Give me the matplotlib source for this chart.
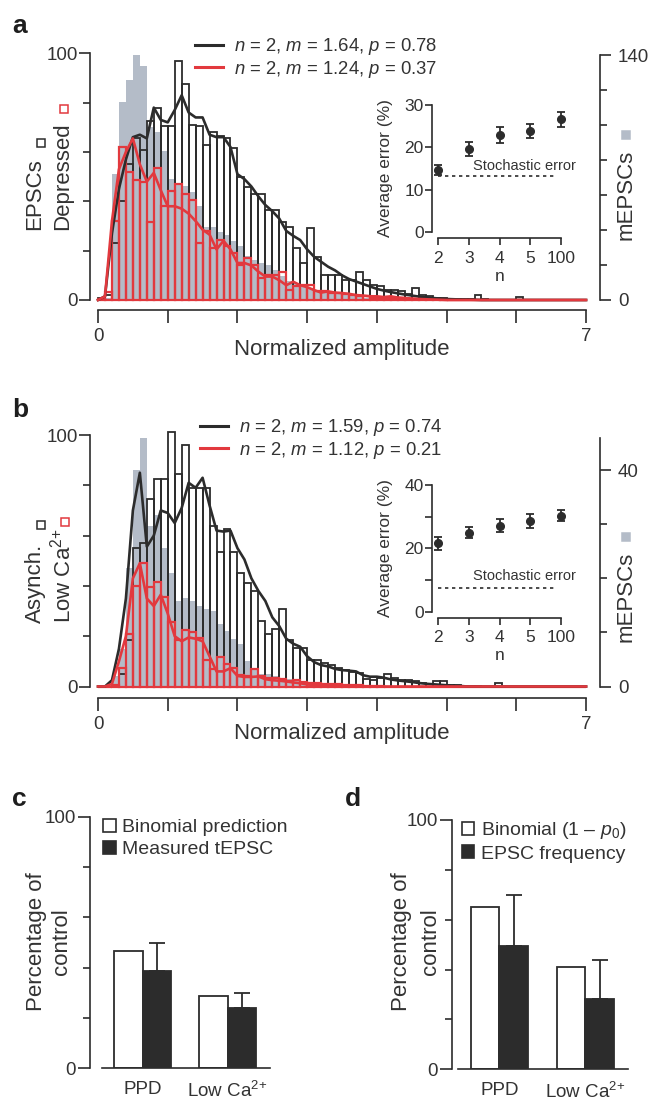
import numpy as np
import matplotlib
matplotlib.use('Agg')
import matplotlib.pyplot as plt
from matplotlib.lines import Line2D
from matplotlib.patches import Patch

# Amplitude histograms (counts per 0.1 bin, 0 to 7) with binomial fits,
# error insets and the two summary bar charts.

plt.rcParams['font.family'] = ['Liberation Sans', 'DejaVu Sans']
plt.rcParams['mathtext.fontset'] = 'custom'
plt.rcParams['mathtext.rm'] = 'Liberation Sans'
plt.rcParams['mathtext.it'] = 'Liberation Sans:italic'
plt.rcParams['mathtext.bf'] = 'Liberation Sans:bold'

INK = '#333333'
DARK = '#2c2c2c'
RED = '#e2393e'
GREY = '#b4bcc8'

BIN = 0.1
bin_left = np.arange(70) * BIN
fit_x = np.arange(71) * BIN

# ---- panel a ----
epsc_a = [1, 2, 23, 40, 55, 65.5, 61, 72.5, 78, 70.5,
          70.5, 97, 87.5, 71, 70.5, 63, 68, 66.5, 65.5, 61.5,
          50, 46, 43, 43, 36.5, 36.5, 31.5, 29.5, 21, 15,
          29, 17.5, 10, 10, 10, 8, 8, 11.5, 8, 6,
          5.5, 4, 4, 3.5, 2.5, 5, 2, 1.5, 1, 1,
          0.5, 0.5, 0.5, 0.5, 2, 0.5, 0, 0, 0, 0,
          1.3, 0, 0, 0, 0, 0, 0, 0, 0, 0]
depressed_a = [0.5, 3.4, 32, 62, 52, 48.5, 48, 31.5, 53.5, 38,
               44, 47, 43, 40.5, 23, 28, 21, 24.5, 22, 19,
               14, 17, 14, 9, 10, 10, 11.5, 4, 5.5, 6,
               6, 3.5, 3.5, 3, 3, 2.5, 2, 1.5, 1.5, 1,
               1, 1, 0.8, 1, 0.5, 0.5, 0.5, 0.3, 0.3, 0.3,
               0, 0, 0, 0, 0, 0, 0, 0, 0, 0,
               0, 0, 0, 0, 0, 0, 0, 0, 0, 0]
mepsc_a = [0, 1.4, 72, 113, 126, 140, 134, 99, 96, 85,
           69, 66, 65, 62, 54, 42, 42, 39, 37, 34,
           31, 25, 23, 21, 20, 17, 14, 11, 10, 8.5,
           7, 5.6, 5, 4.2, 3.5, 2.8, 2.1, 2.1, 1.4, 1.4,
           1.1, 0.8, 0.6, 0.4, 0, 0, 0, 0, 0, 0,
           0, 0, 0, 0, 0, 0, 0, 0, 0, 0,
           0, 0, 0, 0, 0, 0, 0, 0, 0, 0]
fit_epsc_a = [0, 1.5, 27, 45, 57, 66, 67, 65.5, 78, 73,
              72, 77, 83, 76, 74, 74, 67, 66, 66, 62,
              51, 49, 46, 42, 38.5, 36, 33, 28, 26, 24.3,
              20.5, 17.5, 15.5, 13.5, 12, 10, 8.5, 7.5, 6.5, 5.5,
              4.5, 3.8, 3.2, 2.7, 2.2, 1.8, 1.4, 1.1, 0.8, 0.6,
              0.4, 0.3, 0.2, 0.15, 0.1, 0, 0, 0, 0, 0,
              0, 0, 0, 0, 0, 0, 0, 0, 0, 0, 0]
fit_depressed_a = [0, 1.5, 32, 53, 60, 65.5, 55, 48, 51.5, 44.5,
                   38, 38, 37, 35, 32, 28.5, 26.5, 20.5, 24, 20.5,
                   15, 15, 14, 11.5, 9.5, 9.5, 8, 6, 7.4, 6,
                   5.2, 4, 3, 3.5, 3, 2.8, 2.5, 2, 1.8, 1.5,
                   1.5, 1.2, 1.5, 1, 0.8, 0.6, 0.4, 0.3, 0.2, 0.1,
                   0, 0, 0, 0, 0, 0, 0, 0, 0, 0,
                   0, 0, 0, 0, 0, 0, 0, 0, 0, 0, 0]
fit_labels_a = ['$n$ = 2, $m$ = 1.64, $p$ = 0.78', '$n$ = 2, $m$ = 1.24, $p$ = 0.37']

# ---- panel b ----
asynch_b = [0, 0, 0.5, 5, 18.5, 55, 57, 74.5, 82.5, 82.5,
            101, 84.5, 96, 79, 79, 79, 64, 53.6, 62.5, 53.5,
            45, 41, 38, 26, 21, 23, 30.8, 18.5, 15.2, 15.2,
            10.5, 10.5, 9.2, 8.5, 7.2, 6.6, 5.9, 5.5, 3, 2.6,
            3.5, 4.8, 3.2, 2.4, 2.4, 2.2, 1.3, 1, 2.2, 2.2,
            0.5, 0.5, 0.3, 0.3, 0.3, 0, 0, 1.2, 0, 0,
            0, 0, 0, 0, 0, 0, 0, 0, 0, 0]
lowca_b = [0, 0, 0.5, 7.2, 21, 40, 49, 39.7, 41.7, 35.7,
           25.8, 18.5, 22.5, 21.8, 19.2, 10.5, 6.8, 11.8, 9, 7.2,
           4.6, 4, 7, 4, 3.3, 3.3, 3, 2.3, 2.5, 1.9,
           1.5, 1.2, 1, 0.8, 0.8, 0.5, 0.5, 0.4, 0.3, 0.3,
           0.3, 0, 0, 0, 0, 0, 0, 0, 0, 0,
           0, 0, 0, 0, 0, 0, 0, 0, 0, 0,
           0, 0, 0, 0, 0, 0, 0, 0, 0, 0]
mepsc_b = [0, 0, 1.9, 7, 22, 40, 46, 29.8, 31.7, 25.6,
           21, 15.8, 16.3, 15.8, 14.9, 14.4, 14, 11.6, 10.2, 8.8,
           7.9, 4.7, 3.3, 2.3, 2.3, 1.9, 1.6, 1.4, 1.2, 0.9,
           0.8, 0.7, 0.6, 0.5, 0.4, 0.3, 0.2, 0, 0, 0,
           0, 0, 0, 0, 0, 0, 0, 0, 0, 0,
           0, 0, 0, 0, 0, 0, 0, 0, 0, 0,
           0, 0, 0, 0, 0, 0, 0, 0, 0, 0]
fit_asynch_b = [0, 0, 2.5, 15, 35, 70, 85, 55.6, 60, 70,
                69, 65, 71, 81, 79, 83, 72, 62, 61.6, 62,
                55, 50.5, 43, 38, 34, 27.5, 24, 19, 17, 15.8,
                12, 9.7, 8.5, 8, 7, 6.5, 6.3, 6, 4.5, 3.9,
                3.9, 3.5, 2.8, 2.4, 2.1, 1.8, 1.4, 1.1, 0.9, 0.7,
                0.5, 0.3, 0.2, 0, 0, 0, 0, 0, 0, 0,
                0, 0, 0, 0, 0, 0, 0, 0, 0, 0, 0]
fit_lowca_b = [0, 0, 1, 10, 20, 43, 49, 35, 32, 36.5,
               29, 20, 18, 19.5, 19, 18, 12, 6, 6, 7.3,
               4.2, 3.8, 3.8, 4, 2.9, 2.5, 2.3, 2, 1.6, 1.3,
               0.8, 0.6, 0.5, 0.4, 0.3, 0.2, 0.1, 0, 0, 0,
               0, 0, 0, 0, 0, 0, 0, 0, 0, 0,
               0, 0, 0, 0, 0, 0, 0, 0, 0, 0,
               0, 0, 0, 0, 0, 0, 0, 0, 0, 0, 0]
fit_labels_b = ['$n$ = 2, $m$ = 1.59, $p$ = 0.74', '$n$ = 2, $m$ = 1.12, $p$ = 0.21']

# ---- insets ----
n_labels = ['2', '3', '4', '5', '100']
avg_err_a = [14.6, 19.6, 22.9, 23.9, 26.6]
avg_sem_a = [1.2, 1.6, 1.8, 1.7, 1.8]
stoch_a = 13.2
avg_err_b = [21.6, 24.9, 27.2, 28.6, 30.3]
avg_sem_b = [2.0, 1.7, 2.0, 2.3, 1.8]
stoch_b = 7.6

# ---- panels c, d ----
groups = ['PPD', 'Low Ca$^{2{+}}$']
binomial_c = [46.7, 28.7]
measured_c = [38.8, 23.8]
measured_err_c = [11.1, 6.2]
binomial_d = [65.2, 40.9]
frequency_d = [49.5, 28.1]
frequency_err_d = [20.4, 15.7]

W, H = 650, 1102


def fx(x):
    return x / W


def fy(y):
    return 1 - y / H


fig = plt.figure(figsize=(W / 100, H / 100), dpi=100)


def side_label(x, y_bottom, text, sq_x, sq_y, sq_face, sq_edge):
    # rotated axis label with the little coloured square after it
    fig.text(fx(x), fy(y_bottom), text, rotation=90, ha='center', va='bottom',
             fontsize=16, color=INK)
    fig.add_artist(Line2D([fx(sq_x)], [fy(sq_y)], marker='s', ms=5.2, mfc=sq_face,
                          mec=sq_edge, mew=1.1, transform=fig.transFigure))


def hist_panel(y0, px_per_unit, black, red, grey, fit_b, fit_r, labels,
               right_scale, right_top, right_ticks, leg_xy, xaxis_out):
    bottom_px = y0 + 1 * px_per_unit
    top_px = y0 - 103 * px_per_unit
    ax = fig.add_axes([fx(90), fy(bottom_px), fx(510), (bottom_px - top_px) / H])
    ax2 = ax.twinx()
    ax.set_zorder(ax2.get_zorder() + 1)
    ax.patch.set_visible(False)

    ax2.bar(bin_left, grey, width=BIN, align='edge', color=GREY, lw=0)
    ax.bar(bin_left, black, width=BIN, align='edge', fill=False, edgecolor=DARK, lw=1.3)
    ax.bar(bin_left, red, width=BIN, align='edge', fill=False, edgecolor=RED, lw=1.6)
    ax.plot(fit_x, fit_b, color=DARK, lw=1.9, solid_joinstyle='round')
    ax.plot(fit_x, fit_r, color=RED, lw=1.9, solid_joinstyle='round')

    ax.set_xlim(-0.115, 7.2)
    ax.set_ylim(-1, 103)
    ax2.set_ylim(-1 * right_scale, 103 * right_scale)

    for a in (ax, ax2):
        for s in a.spines.values():
            s.set_color(DARK)
            s.set_linewidth(1.2)
        a.spines['top'].set_visible(False)
    ax.spines['right'].set_visible(False)
    ax2.spines['left'].set_visible(False)
    ax2.spines['bottom'].set_visible(False)
    ax.spines['left'].set_bounds(0, 100)
    ax2.spines['right'].set_bounds(0, right_top)
    ax.spines['bottom'].set_position(('outward', xaxis_out))
    ax.spines['bottom'].set_bounds(0, 7)

    ax.set_yticks([0, 100], ['0', '100'])
    ax.set_yticks([20, 40, 60, 80], minor=True)
    ax2.set_yticks([0, right_ticks[-1]], ['0', str(right_ticks[-1])])
    ax2.set_yticks(right_ticks[1:-1], minor=True)
    ax.set_xticks([0, 7], ['0', '7'])
    ax.set_xticks(range(1, 7), minor=True)
    for a in (ax, ax2):
        a.tick_params(which='major', length=8, width=1.2, color=DARK, labelsize=13.5,
                      labelcolor=INK, pad=1)
        a.tick_params(which='minor', length=5, width=1.2, color=DARK)
    ax2.tick_params(axis='y', pad=5)
    ax.tick_params(axis='x', which='both', length=9, pad=4)

    handles = [Line2D([], [], color=DARK, lw=2.2), Line2D([], [], color=RED, lw=2.2)]
    leg = ax.legend(handles, labels, loc='upper left', bbox_to_anchor=(fx(leg_xy[0]), fy(leg_xy[1])),
                    bbox_transform=fig.transFigure, frameon=False, fontsize=13.3,
                    handlelength=1.5, handletextpad=0.6, labelspacing=0.1,
                    borderpad=0, borderaxespad=0)
    for t in leg.get_texts():
        t.set_color(INK)
    return ax


def error_inset(y0, y_top, err, sem, stoch, yticks, ylabels, text_y):
    ins = fig.add_axes([fx(432), fy(y0), fx(135.3), (y0 - y_top) / H])
    ins.patch.set_visible(False)
    pos = np.arange(len(n_labels))
    ins.errorbar(pos, err, yerr=sem, fmt='o', color=DARK, ms=5.5, capsize=2.6,
                 elinewidth=1.3, capthick=1.3)
    ins.hlines(stoch, pos[0], pos[-1] - 0.13, colors=DARK, lw=1.2, linestyles=(0, (2, 2.2)))
    ins.text(1.14, text_y, 'Stochastic error', fontsize=10.5, color=INK, va='center', ha='left')
    ins.set_xlim(-0.2, 4.2)
    ins.set_ylim(0, yticks[-1])
    for s in ['top', 'right']:
        ins.spines[s].set_visible(False)
    for s in ['left', 'bottom']:
        ins.spines[s].set_color(DARK)
        ins.spines[s].set_linewidth(1.2)
    ins.spines['bottom'].set_position(('outward', 4.5))
    ins.spines['bottom'].set_bounds(0, 4)
    ins.set_xticks(pos, n_labels)
    ins.set_yticks(yticks, ylabels)
    ins.tick_params(length=5, width=1.2, color=DARK, labelsize=12.5, labelcolor=INK, pad=1)
    ins.tick_params(axis='x', pad=4)
    ins.set_xlabel('n', fontsize=12.5, color=INK, labelpad=2)
    ins.set_ylabel('Average error (%)', fontsize=12.5, color=INK)
    ins.yaxis.set_label_coords(-0.29, 0.5)


def summary_panel(left, right, y0, y100, xlo, values_open, values_filled, errs, legend_labels,
                  leg_xy):
    ax = fig.add_axes([fx(left), fy(y0), fx(right - left), (y0 - y100) / H])
    pos = np.arange(len(groups))
    w = 0.335
    ax.bar(pos - w / 2, values_open, w, color='white', edgecolor=DARK, lw=1.3,
           label=legend_labels[0])
    ax.bar(pos + w / 2, values_filled, w, color=DARK, edgecolor=DARK, lw=1.3,
           label=legend_labels[1])
    ax.errorbar(pos + w / 2, values_filled, yerr=[np.zeros(len(errs)), errs], fmt='none',
                ecolor=DARK, elinewidth=1.3, capsize=5.8, capthick=1.3)
    ax.set_xlim(xlo, 1.5)
    ax.set_ylim(0, 100)
    for s in ['top', 'right']:
        ax.spines[s].set_visible(False)
    for s in ['left', 'bottom']:
        ax.spines[s].set_color(DARK)
        ax.spines[s].set_linewidth(1.2)
    ax.spines['bottom'].set_bounds(-0.48, 1.5)
    ax.set_yticks([0, 100], ['0', '100'])
    ax.set_yticks([20, 40, 60, 80], minor=True)
    ax.tick_params(axis='y', which='major', length=9, width=1.2, color=DARK,
                   labelsize=13.5, labelcolor=INK, pad=1)
    ax.tick_params(axis='y', which='minor', length=5, width=1.2, color=DARK)
    ax.set_xticks(pos, groups)
    ax.tick_params(axis='x', length=0, labelsize=13.5, labelcolor=INK, pad=9)
    handles = [Patch(facecolor='white', edgecolor=DARK, lw=1.2),
               Patch(facecolor=DARK, edgecolor=DARK, lw=1.2)]
    leg = ax.legend(handles, legend_labels, loc='upper left',
                    bbox_to_anchor=(fx(leg_xy[0]), fy(leg_xy[1])), bbox_transform=fig.transFigure,
                    frameon=False, fontsize=14, handlelength=0.65, handleheight=0.65,
                    handletextpad=0.35, labelspacing=0.22, borderpad=0, borderaxespad=0)
    for t in leg.get_texts():
        t.set_color(INK)
    return ax


# panel a
hist_panel(300, 2.467, epsc_a, depressed_a, mepsc_a, fit_epsc_a, fit_depressed_a, fit_labels_a,
           1.41, 140, [0, 20, 40, 60, 80, 100, 120, 140], (195, 36), 5.4)
error_inset(232, 105, avg_err_a, avg_sem_a, stoch_a, [0, 10, 20, 30], ['0', '10', '20', '30'], 15.7)
side_label(35, 230, 'EPSCs', 40.7, 143, 'white', DARK)
side_label(63, 230, 'Depressed', 63.7, 109, 'white', RED)
side_label(626, 240, 'mEPSCs', 625.5, 135, GREY, GREY)
fig.text(fx(342), fy(349), 'Normalized amplitude', fontsize=16, color=INK, ha='center', va='center')
fig.text(fx(12), fy(33), 'a', fontsize=19, fontweight='bold', color='#1e1e1e')

# panel b
hist_panel(686.5, 2.515, asynch_b, lowca_b, mepsc_b, fit_asynch_b, fit_lowca_b, fit_labels_b,
           0.4657, 46, [0, 10, 20, 30, 40], (200, 417), 6.5)
error_inset(611.7, 485, avg_err_b, avg_sem_b, stoch_b, [0, 10, 20, 30, 40],
            ['0', '', '20', '', '40'], 11.3)
side_label(35, 623, 'Asynch.', 40.7, 525, 'white', DARK)
side_label(63, 623, 'Low Ca$^{2{+}}$', 65.3, 521.7, 'white', RED)
side_label(626, 642, 'mEPSCs', 625.7, 536.7, GREY, GREY)
fig.text(fx(342), fy(733), 'Normalized amplitude', fontsize=16, color=INK, ha='center', va='center')
fig.text(fx(12), fy(417), 'b', fontsize=19, fontweight='bold', color='#1e1e1e')

# panel c
summary_panel(90, 270, 1068.3, 816.7, -0.62, binomial_c, measured_c, measured_err_c,
              ['Binomial prediction', 'Measured tEPSC'], (103, 819))
fig.text(fx(49), fy(942), 'Percentage of\ncontrol', rotation=90, fontsize=16, color=INK,
         ha='center', va='center', linespacing=1.3, multialignment='center')
fig.text(fx(12), fy(806), 'c', fontsize=19, fontweight='bold', color='#1e1e1e')

# panel d
summary_panel(451.7, 628.3, 1069.3, 820, -0.556, binomial_d, frequency_d, frequency_err_d,
              ['Binomial (1 – $p_0$)', 'EPSC frequency'], (461.7, 820))
fig.text(fx(416), fy(942), 'Percentage of\ncontrol', rotation=90, fontsize=16, color=INK,
         ha='center', va='center', linespacing=1.45, multialignment='center')
fig.text(fx(345), fy(806), 'd', fontsize=19, fontweight='bold', color='#1e1e1e')

fig.savefig('out.png', dpi=100, facecolor='white')
